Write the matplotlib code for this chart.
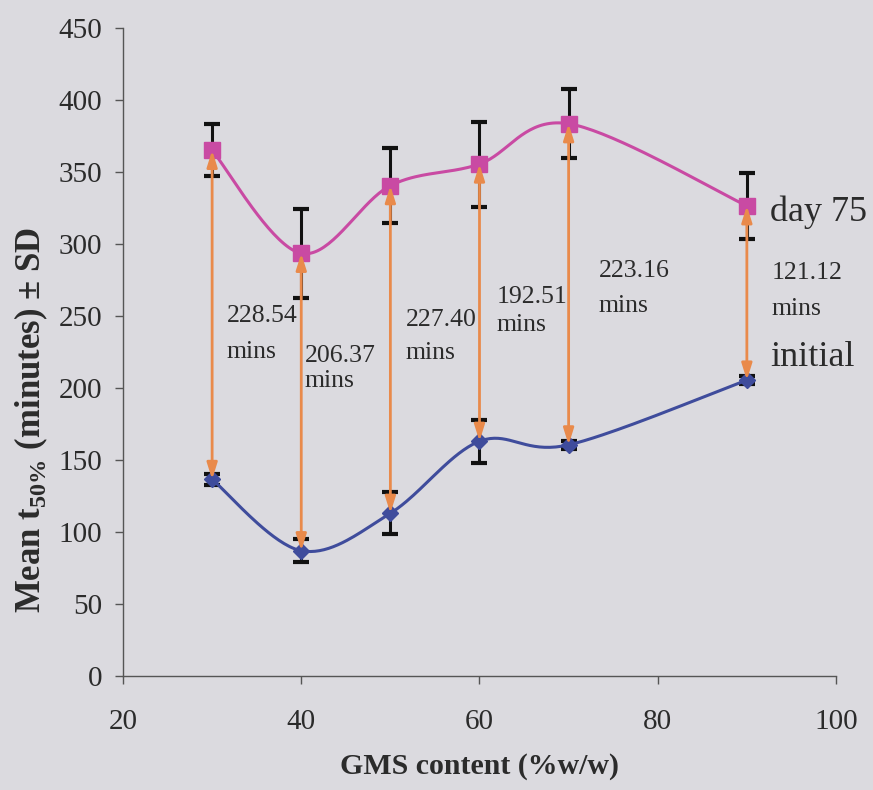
import numpy as np
import matplotlib
matplotlib.use("Agg")
import matplotlib.pyplot as plt

# GMS content (% w/w)
gms = [30, 40, 50, 60, 70, 90]

# mean t50% (minutes) and SD
initial_mean = [136.5, 87.0, 113.0, 163.0, 160.5, 205.5]
initial_sd = [4.0, 8.0, 14.5, 15.0, 3.0, 3.0]
day75_mean = [365.0, 293.5, 340.5, 355.5, 383.5, 326.5]
day75_sd = [18.0, 31.0, 26.0, 29.5, 24.0, 23.0]

# difference labels shown beside each arrow
diff_labels = ["228.54", "206.37", "227.40", "192.51", "223.16", "121.12"]
# where each label sits (x, y of number, y of "mins")
label_pos = [(31.6, 250, 225), (40.4, 222, 205), (51.7, 247, 224),
             (61.9, 263, 244), (73.4, 281, 257), (92.8, 280, 255)]

BG = "#DBDADF"
TXT = "#2B2B2B"
PINK = "#C94AA3"
BLUE = "#3F4C9C"
ORANGE = "#E98A4B"

plt.rcParams["font.family"] = ["Liberation Serif", "DejaVu Serif"]
plt.rcParams["mathtext.fontset"] = "custom"
plt.rcParams["mathtext.rm"] = "Liberation Serif:bold"
plt.rcParams["mathtext.bf"] = "Liberation Serif:bold"


def smooth(ax, xs, ys, n=40):
    """Excel-style smoothed line: Catmull-Rom bezier in screen space"""
    pts = ax.transData.transform(np.column_stack([xs, ys]))
    p = np.vstack([pts[0], pts, pts[-1]])
    out = []
    t = np.linspace(0, 1, n)[:, None]
    for i in range(1, len(p) - 2):
        p0, p1, p2, p3 = p[i - 1], p[i], p[i + 1], p[i + 2]
        c1 = p1 + (p2 - p0) / 6
        c2 = p2 - (p3 - p1) / 6
        seg = ((1 - t) ** 3) * p1 + 3 * ((1 - t) ** 2) * t * c1 \
            + 3 * (1 - t) * t ** 2 * c2 + t ** 3 * p2
        out.append(seg)
    out = np.vstack(out)
    d = ax.transData.inverted().transform(out)
    return d[:, 0], d[:, 1]


fig = plt.figure(figsize=(8.73, 7.90), dpi=100, facecolor=BG)
ax = fig.add_axes([0.1409, 0.1443, 0.8167, 0.8203])
ax.set_facecolor(BG)
ax.set_xlim(20, 100)
ax.set_ylim(0, 450)

for mean, sd in [(day75_mean, day75_sd), (initial_mean, initial_sd)]:
    ax.errorbar(gms, mean, yerr=sd, fmt="none", ecolor="#111111",
                elinewidth=2.2, capsize=6, capthick=3, zorder=2)

sx, sy = smooth(ax, gms, day75_mean)
ax.plot(sx, sy, color=PINK, lw=2.2, zorder=3)
ax.plot(gms, day75_mean, ls="none", marker="s", ms=11, color=PINK,
        mec=PINK, zorder=4)

sx, sy = smooth(ax, gms, initial_mean)
ax.plot(sx, sy, color=BLUE, lw=2.2, zorder=3)
ax.plot(gms, initial_mean, ls="none", marker="D", ms=8, color=BLUE,
        mec=BLUE, zorder=4)

for x, lo, hi in zip(gms, initial_mean, day75_mean):
    ax.annotate("", xy=(x, hi), xytext=(x, lo),
                arrowprops=dict(arrowstyle="<|-|>,head_length=0.7,head_width=0.22",
                                color=ORANGE, lw=2, shrinkA=0, shrinkB=0,
                                mutation_scale=14),
                zorder=5)

for lab, (lx, ly, my) in zip(diff_labels, label_pos):
    ax.text(lx, ly, lab, fontsize=18.5, color=TXT, ha="left", va="center")
    ax.text(lx, my, "mins", fontsize=18.5, color=TXT, ha="left", va="center")

ax.text(92.6, 322, "day 75", fontsize=26, color=TXT, ha="left", va="center")
ax.text(92.6, 221, "initial", fontsize=26, color=TXT, ha="left", va="center")

ax.set_xticks([20, 40, 60, 80, 100])
ax.set_yticks(np.arange(0, 451, 50))
ax.tick_params(axis="both", direction="out", length=6, width=1,
               color="#555555", labelsize=21, labelcolor=TXT)
ax.tick_params(axis="x", pad=18)
ax.tick_params(axis="y", pad=9)
for s in ["top", "right"]:
    ax.spines[s].set_visible(False)
for s in ["left", "bottom"]:
    ax.spines[s].set_color("#555555")
    ax.spines[s].set_linewidth(1)

ax.set_xlabel("GMS content (%w/w)", fontsize=21.5, fontweight="bold",
              color=TXT, labelpad=13)
ax.set_ylabel(r"Mean t$_{\mathrm{50\%}}$ (minutes) ± SD", fontsize=25,
              fontweight="bold", color=TXT)
ax.yaxis.set_label_coords(-0.102, 0.395)

fig.savefig("out.png", dpi=100, facecolor=BG)
